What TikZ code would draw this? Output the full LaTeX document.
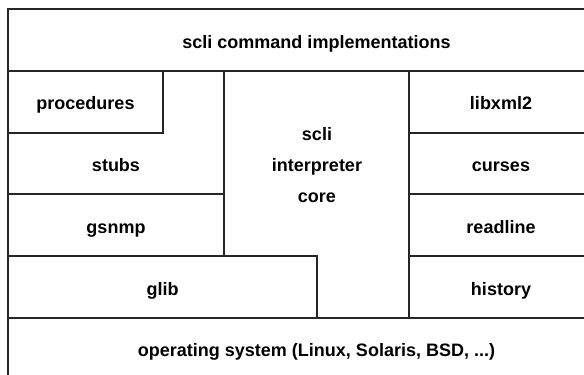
\documentclass[tikz,border=0pt]{standalone}
\usepackage{fontspec}
\setmainfont{Liberation Sans}
\usepackage{tikz}

\begin{document}
\begin{tikzpicture}[x=1pt, y=-1pt,
    lbl/.style={font=\bfseries\fontsize{18}{31}\selectfont, inner sep=0pt, align=center, anchor=base},
    wall/.style={line width=1.1pt, draw=black!85}]

\useasboundingbox (0,0) rectangle (584,375);

% outer frame and the long rows
\draw[wall] (8,375) -- (8,9) -- (584,9);
\draw[wall] (8,71) -- (584,71);
\draw[wall] (8,318) -- (584,318);

% left column
\draw[wall] (8,133) -- (163,133) -- (163,71);
\draw[wall] (8,194) -- (224,194);
\draw[wall] (224,71) -- (224,256);
\draw[wall] (8,256) -- (317,256) -- (317,318);

% right column
\draw[wall] (409,71) -- (409,318);
\draw[wall] (409,133) -- (584,133);
\draw[wall] (409,194) -- (584,194);
\draw[wall] (409,256) -- (584,256);

% labels (placed on their baselines)
\node[lbl] (cmds) at (316.5,48) {scli command implementations};
\node[lbl] (procs) at (85.5,109) {procedures};
\node[lbl] (stubs) at (116,171) {stubs};
\node[lbl] (gsnmp) at (116,233) {gsnmp};
\node[lbl] (glib) at (162.5,295) {glib};
\node[lbl] (core) at (317,202) {scli\\interpreter\\core};
\node[lbl] (xml) at (501,109) {libxml2};
\node[lbl] (curses) at (501,171) {curses};
\node[lbl] (rdline) at (501,233) {readline};
\node[lbl] (hist) at (501,295) {history};
\node[lbl] (os) at (316.5,356) {operating system (Linux, Solaris, BSD, ...)};

\end{tikzpicture}
\end{document}
